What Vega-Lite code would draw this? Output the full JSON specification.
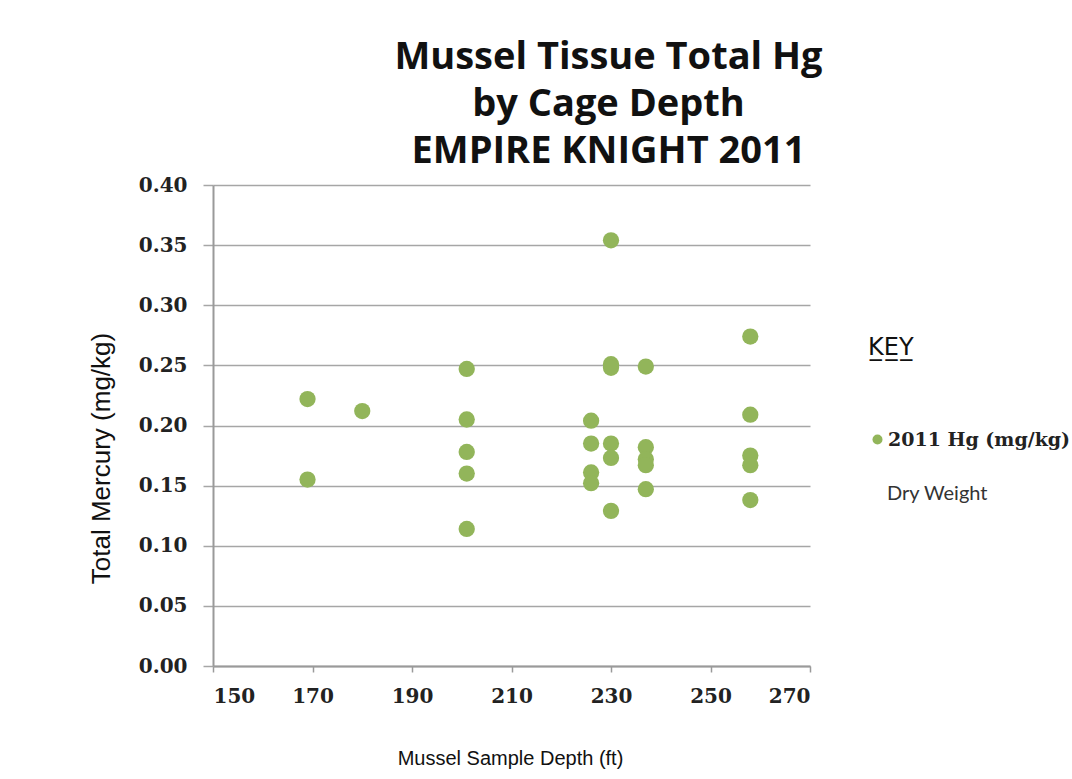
{
  "$schema": "https://vega.github.io/schema/vega-lite/v6.json",
  "width": 597,
  "height": 481,
  "autosize": {"type": "none"},
  "padding": {"left": 213, "top": 185, "right": 262, "bottom": 113},
  "background": "white",
  "title": {
    "text": ["Mussel Tissue Total Hg", "by Cage Depth", "EMPIRE KNIGHT 2011"],
    "font": "Open Sans",
    "fontWeight": "bold",
    "fontSize": 38,
    "lineHeight": 47,
    "color": "#111111",
    "anchor": "middle",
    "dx": 97,
    "offset": 4
  },
  "data": {
    "values": [
      {"depth": 169, "hg": 0.222, "series": "2011 Hg (mg/kg)", "note": "Dry Weight"},
      {"depth": 169, "hg": 0.155, "series": "2011 Hg (mg/kg)", "note": "Dry Weight"},
      {"depth": 180, "hg": 0.212, "series": "2011 Hg (mg/kg)", "note": "Dry Weight"},
      {"depth": 201, "hg": 0.247, "series": "2011 Hg (mg/kg)", "note": "Dry Weight"},
      {"depth": 201, "hg": 0.205, "series": "2011 Hg (mg/kg)", "note": "Dry Weight"},
      {"depth": 201, "hg": 0.178, "series": "2011 Hg (mg/kg)", "note": "Dry Weight"},
      {"depth": 201, "hg": 0.160, "series": "2011 Hg (mg/kg)", "note": "Dry Weight"},
      {"depth": 201, "hg": 0.114, "series": "2011 Hg (mg/kg)", "note": "Dry Weight"},
      {"depth": 226, "hg": 0.204, "series": "2011 Hg (mg/kg)", "note": "Dry Weight"},
      {"depth": 226, "hg": 0.185, "series": "2011 Hg (mg/kg)", "note": "Dry Weight"},
      {"depth": 226, "hg": 0.161, "series": "2011 Hg (mg/kg)", "note": "Dry Weight"},
      {"depth": 226, "hg": 0.152, "series": "2011 Hg (mg/kg)", "note": "Dry Weight"},
      {"depth": 230, "hg": 0.354, "series": "2011 Hg (mg/kg)", "note": "Dry Weight"},
      {"depth": 230, "hg": 0.251, "series": "2011 Hg (mg/kg)", "note": "Dry Weight"},
      {"depth": 230, "hg": 0.248, "series": "2011 Hg (mg/kg)", "note": "Dry Weight"},
      {"depth": 230, "hg": 0.185, "series": "2011 Hg (mg/kg)", "note": "Dry Weight"},
      {"depth": 230, "hg": 0.173, "series": "2011 Hg (mg/kg)", "note": "Dry Weight"},
      {"depth": 230, "hg": 0.129, "series": "2011 Hg (mg/kg)", "note": "Dry Weight"},
      {"depth": 237, "hg": 0.249, "series": "2011 Hg (mg/kg)", "note": "Dry Weight"},
      {"depth": 237, "hg": 0.182, "series": "2011 Hg (mg/kg)", "note": "Dry Weight"},
      {"depth": 237, "hg": 0.172, "series": "2011 Hg (mg/kg)", "note": "Dry Weight"},
      {"depth": 237, "hg": 0.167, "series": "2011 Hg (mg/kg)", "note": "Dry Weight"},
      {"depth": 237, "hg": 0.147, "series": "2011 Hg (mg/kg)", "note": "Dry Weight"},
      {"depth": 258, "hg": 0.274, "series": "2011 Hg (mg/kg)", "note": "Dry Weight"},
      {"depth": 258, "hg": 0.209, "series": "2011 Hg (mg/kg)", "note": "Dry Weight"},
      {"depth": 258, "hg": 0.175, "series": "2011 Hg (mg/kg)", "note": "Dry Weight"},
      {"depth": 258, "hg": 0.167, "series": "2011 Hg (mg/kg)", "note": "Dry Weight"},
      {"depth": 258, "hg": 0.138, "series": "2011 Hg (mg/kg)", "note": "Dry Weight"}
    ]
  },
  "mark": {"type": "point", "filled": true, "size": 265, "opacity": 1},
  "encoding": {
    "x": {
      "field": "depth",
      "type": "quantitative",
      "scale": {"domain": [150, 270], "nice": false, "zero": false},
      "axis": {
        "values": [150, 170, 190, 210, 230, 250, 270],
        "grid": false,
        "tickSize": 6,
        "tickColor": "#9a9a9a",
        "tickWidth": 1.5,
        "domainColor": "#9a9a9a",
        "domainWidth": 2,
        "labelFont": "DejaVu Serif",
        "labelFontWeight": "bold",
        "labelFontSize": 20,
        "labelColor": "#222222",
        "labelPadding": 14,
        "title": "Mussel Sample Depth (ft)",
        "titleFont": "Liberation Sans",
        "titleFontWeight": "normal",
        "titleFontSize": 20,
        "titleColor": "#111111",
        "titleX": 297,
        "titleY": 92,
        "titleBaseline": "middle",
        "titleAnchor": "middle"
      }
    },
    "y": {
      "field": "hg",
      "type": "quantitative",
      "scale": {"domain": [0, 0.4], "nice": false},
      "axis": {
        "values": [0, 0.05, 0.1, 0.15, 0.2, 0.25, 0.3, 0.35, 0.4],
        "format": ".2f",
        "grid": true,
        "gridColor": "#a6a6a6",
        "gridWidth": 1.5,
        "gridOpacity": 1,
        "tickSize": 10,
        "tickColor": "#a6a6a6",
        "tickWidth": 1.5,
        "domainColor": "#9a9a9a",
        "domainWidth": 2,
        "labelFont": "DejaVu Serif",
        "labelFontWeight": "bold",
        "labelFontSize": 20,
        "labelColor": "#222222",
        "labelPadding": 16,
        "title": "Total Mercury (mg/kg)",
        "titleFont": "Liberation Sans",
        "titleFontWeight": "normal",
        "titleFontSize": 26,
        "titleColor": "#111111",
        "titleX": -112,
        "titleY": 273,
        "titleAngle": -90,
        "titleBaseline": "middle",
        "titleAlign": "center"
      }
    },
    "color": {
      "field": "series",
      "type": "nominal",
      "scale": {"range": ["#92B55A"]},
      "legend": {
        "orient": "none",
        "legendX": 655,
        "legendY": 151,
        "title": "K̲E̲Y̲",
        "titleFont": "DejaVu Sans",
        "titleFontWeight": "normal",
        "titleFontSize": 24,
        "titleColor": "#111111",
        "titlePadding": 70,
        "symbolType": "circle",
        "symbolSize": 100,
        "labelFont": "DejaVu Serif",
        "labelFontWeight": "bold",
        "labelFontSize": 19,
        "labelColor": "#222222",
        "labelOffset": 1,
        "labelLimit": 300
      }
    },
    "shape": {
      "field": "note",
      "type": "nominal",
      "scale": {"range": ["circle"]},
      "legend": {
        "orient": "none",
        "legendX": 652,
        "legendY": 299,
        "title": null,
        "symbolOpacity": 0,
        "symbolStrokeWidth": 0,
        "symbolSize": 100,
        "labelFont": "Lato",
        "labelFontSize": 20,
        "labelColor": "#333333",
        "labelOffset": 2,
        "labelLimit": 300
      }
    }
  },
  "config": {"view": {"stroke": null}}
}
